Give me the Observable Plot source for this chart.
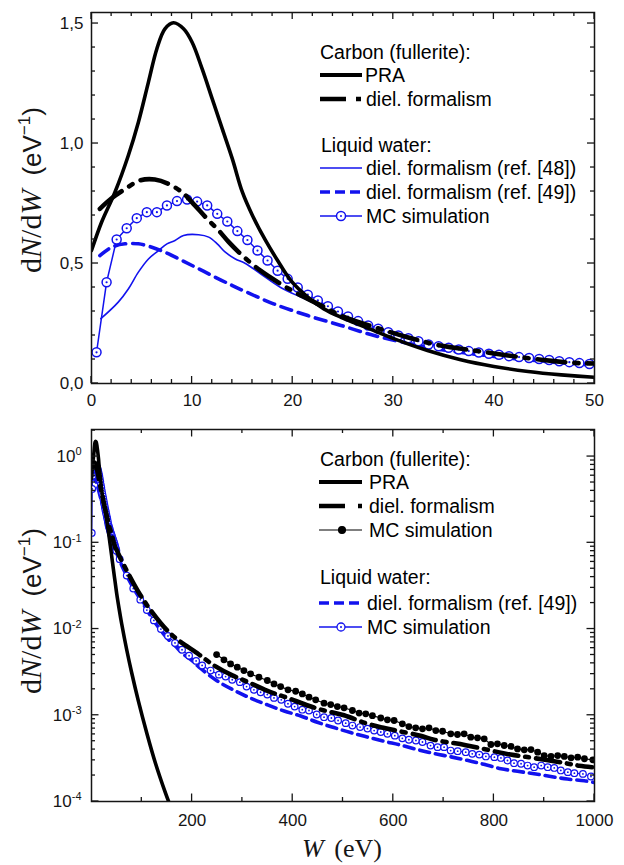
<!DOCTYPE html>
<html><head><meta charset="utf-8">
<script src="https://cdn.jsdelivr.net/npm/d3@7"></script>
<script src="https://cdn.jsdelivr.net/npm/@observablehq/plot@0.6"></script>
<style>body{margin:0;background:#fff} #chart{width:624px} svg{display:block}</style>
</head><body><div id="chart"></div>
<script>
// ---------------- data ----------------
// Carbon (fullerite), PRA
const praW = [0,1,2.33,3.66,4.66,5.66,6.5,7.3,8.15,9.15,10,11,12,13,14,15,16,17.3,18.5,19.8,21.5,23.1,24.8,27.4,30.1,33.4,36.7,40,43.4,46.7,50,55,60,70,80,93,110,127,147,160,170];
const praV = [0.554,0.672,0.797,0.95,1.089,1.256,1.395,1.478,1.503,1.478,1.422,1.311,1.186,1.061,0.936,0.797,0.70,0.596,0.5125,0.43,0.36,0.311,0.276,0.232,0.186,0.1375,0.099,0.071,0.05,0.036,0.026,0.017,0.0115,5.75e-3,3.09e-3,1.48e-3,6.2e-4,2.8e-4,1.26e-4,7.9e-5,5.6e-5];
// Carbon (fullerite), dielectric formalism
const dielCW = [0.83,2,3.33,4.8,6.3,7.65,9,10,11.5,12.65,13.65,15,16.8,18.8,20.5,22.5,24.8,28.1,31.4,34.7,38,41.4,44.7,48,50,53.3,73.3,93.3,120,153,177,207,217,243,280,313,356,386,442,472,502,545,578,608,654,681,744,833,863,940,970,995];
const dielCV = [0.728,0.772,0.81,0.846,0.85,0.832,0.797,0.755,0.686,0.6375,0.589,0.533,0.47,0.415,0.374,0.332,0.283,0.235,0.193,0.158,0.1375,0.117,0.099,0.086,0.083,0.0745,0.0437,0.0269,0.0158,9.3e-3,7.1e-3,5.4e-3,4.9e-3,3.8e-3,2.9e-3,2.4e-3,1.86e-3,1.62e-3,1.23e-3,1.1e-3,1.0e-3,8.1e-4,7.2e-4,6.6e-4,5.8e-4,5.2e-4,4.5e-4,3.5e-4,3.3e-4,2.8e-4,2.6e-4,2.5e-4];
// Carbon (fullerite), MC simulation (lower panel only)
const mcCW = [248.7,263.3,276.5,289.8,303,316.3,332.9,349.5,362.8,376,390.7,405.9,419.2,432.5,445.7,462.3,475.6,488.8,502.1,518.7,532,545.2,558.5,575.1,588.3,601.6,618,631,644.5,658,671,684.5,698,714.2,727.6,740.8,754,767.4,780.7,794,807,820.5,834,847,860.4,873.7,887,900,913.5,926.8,940,953.4,966.6,980,996.6];
const mcCV = [5.06e-3,4.40e-3,3.94e-3,3.61e-3,3.30e-3,3.02e-3,2.76e-3,2.53e-3,2.31e-3,2.15e-3,1.97e-3,1.90e-3,1.77e-3,1.62e-3,1.51e-3,1.38e-3,1.33e-3,1.26e-3,1.22e-3,1.135e-3,1.06e-3,1.04e-3,9.9e-4,9.3e-4,8.85e-4,8.7e-4,7.96e-4,7.4e-4,7.15e-4,6.97e-4,7.15e-4,6.65e-4,6.53e-4,6.1e-4,5.98e-4,6.1e-4,5.57e-4,5.47e-4,5.33e-4,4.58e-4,4.67e-4,4.46e-4,4.35e-4,4.07e-4,3.97e-4,4.0e-4,3.73e-4,3.41e-4,3.33e-4,3.41e-4,3.33e-4,3.21e-4,3.27e-4,3.13e-4,3.04e-4];
// Liquid water, dielectric formalism (ref. [48]) (upper panel only)
const ref48W = [0.93,2.66,3.66,4.66,5.66,6.66,7.5,8.3,9.15,10.65,11.65,12.5,13.3,14.3,15.3,16.8,18.8,20.8,23.1,25.4,28.1,32.7,36,40,45,50];
const ref48V = [0.27,0.339,0.394,0.464,0.519,0.554,0.582,0.596,0.617,0.62,0.61,0.582,0.547,0.519,0.5,0.457,0.40,0.36,0.318,0.276,0.235,0.175,0.145,0.118,0.097,0.08];
// Liquid water, dielectric formalism (ref. [49])
const ref49W = [0.83,2,3.33,4.66,6,7.3,9,10.65,12.3,14,15.3,18.1,21.5,24.8,28.1,31.4,35,40,45,50,60,70,80,90,100,110,120,133,150,167,183,200,217,250,283,316,350,383,416,449,482,515,548,581,615,648,681,714,747,780,814,847,880,913,946,980,1000];
const ref49V = [0.533,0.568,0.582,0.582,0.568,0.547,0.5125,0.478,0.443,0.408,0.383,0.332,0.283,0.242,0.2,0.168,0.14,0.113,0.092,0.076,0.055,0.0417,0.0324,0.0257,0.0209,0.0166,0.0135,0.0105,7.9e-3,6.3e-3,5.1e-3,4.3e-3,3.5e-3,2.5e-3,1.95e-3,1.58e-3,1.32e-3,1.12e-3,9.8e-4,8.3e-4,7.2e-4,6.3e-4,5.6e-4,5.0e-4,4.5e-4,4.0e-4,3.6e-4,3.3e-4,3.0e-4,2.7e-4,2.4e-4,2.24e-4,2.1e-4,1.95e-4,1.82e-4,1.74e-4,1.66e-4];
// Liquid water, MC simulation: 1-eV bins up to 50 eV ...
const mcWW = [0.5,1.5,2.5,3.5,4.5,5.5,6.5,7.5,8.5,9.5,10.5,11.5,12.5,13.5,14.5,15.5,16.5,17.5,18.5,19.5,20.5,21.5,22.5,23.5,24.5,25.5,26.5,27.5,28.5,29.5,30.5,31.5,32.5,33.5,34.5,35.5,36.5,37.5,38.5,39.5,40.5,41.5,42.5,43.5,44.5,45.5,46.5,47.5,48.5,49.5];
const mcWV = [0.13,0.422,0.60,0.647,0.689,0.714,0.714,0.742,0.76,0.767,0.758,0.742,0.707,0.675,0.635,0.598,0.554,0.5125,0.47,0.436,0.40,0.37,0.346,0.322,0.30,0.279,0.26,0.242,0.228,0.214,0.2,0.189,0.176,0.163,0.155,0.149,0.142,0.135,0.129,0.124,0.12,0.114,0.11,0.106,0.102,0.098,0.093,0.089,0.085,0.081];
// ... and its high-energy tail (lower panel)
const mcWTailW = [56,70,83,97,110,124,138,152,166,180,194,208,220,236.7,253.3,266.6,279.8,295,308.3,322.9,336.2,349.5,362.8,377.3,390.6,403.9,419.1,432.4,447.7,462.3,476.9,490.2,505.4,518.7,534,548.6,561.9,575.1,588.4,603,618,631,645,658,674,688,701,714,728,744,757,771,784,801,814,827,840,854,867,880,894,907,920,933,947,960,977,993];
const mcWTailV = [0.0646,0.0417,0.0295,0.0219,0.0166,0.0126,0.01,8.3e-3,6.9e-3,5.75e-3,4.9e-3,4.27e-3,3.78e-3,3.3e-3,2.96e-3,2.81e-3,2.58e-3,2.42e-3,2.15e-3,1.97e-3,1.85e-3,1.74e-3,1.59e-3,1.51e-3,1.36e-3,1.26e-3,1.16e-3,1.135e-3,1.02e-3,9.5e-4,9.3e-4,8.7e-4,8.1e-4,7.6e-4,7.3e-4,7.0e-4,6.65e-4,6.4e-4,6.1e-4,5.8e-4,5.4e-4,5.2e-4,5.1e-4,4.9e-4,4.45e-4,4.27e-4,4.27e-4,3.9e-4,3.83e-4,3.73e-4,3.57e-4,3.5e-4,3.33e-4,3.27e-4,3.2e-4,2.99e-4,2.78e-4,2.74e-4,2.61e-4,2.5e-4,2.61e-4,2.5e-4,2.45e-4,2.29e-4,2.19e-4,2.13e-4,2.09e-4,1.95e-4];

// tick values / labels
const topXTicks = [0,10,20,30,40,50];
const topYTicks = [0,0.5,1.0,1.5];
const botXTicks = [200,400,600,800,1000];
const botYTicks = [1e-4,1e-3,1e-2,1e-1,1];

// ---------------- helpers ----------------
const zip = (ws, vs) => ws.map((w, i) => ({w, v: vs[i]}));
const sans = "'Liberation Sans', Arial, sans-serif";
const serif = "'Liberation Serif', 'Times New Roman', serif";
const blue = "#1212ee";
const ink = "#151515";
const W = 624, ML = 91, MR = 30;

// inward ticks on all four sides, placed with the plot's own scales
function drawTicks(plot, H, MT, MB, xs, ys, len) {
  const sx = plot.scale("x"), sy = plot.scale("y");
  const L = ML, R = W - MR, T = MT, B = H - MB;
  const g = d3.select(plot).append("g").attr("stroke", ink).attr("stroke-width", 1.3).attr("fill", "none");
  for (const v of xs) {
    const x = sx.apply(v);
    g.append("line").attr("x1", x).attr("x2", x).attr("y1", B).attr("y2", B - len);
    g.append("line").attr("x1", x).attr("x2", x).attr("y1", T).attr("y2", T + len);
  }
  for (const v of ys) {
    const y = sy.apply(v);
    g.append("line").attr("y1", y).attr("y2", y).attr("x1", L).attr("x2", L + len);
    g.append("line").attr("y1", y).attr("y2", y).attr("x1", R).attr("x2", R - len);
  }
}

function yTitle(svg, cx, cy) {
  const t = d3.select(svg).append("text")
    .attr("transform", `translate(${cx},${cy}) rotate(-90)`)
    .attr("text-anchor", "middle").attr("fill", ink);
  const sp = (txt, fam, size, italic) => t.append("tspan").attr("font-family", fam).attr("font-size", size)
    .attr("font-style", italic ? "italic" : "normal").text(txt);
  sp("d", serif, 30); sp("N", serif, 30, true); sp("/d", serif, 30); sp("W", serif, 30, true);
  sp("(eV", sans, 26).attr("dx", 14);
  sp("\u22121", sans, 17).attr("dy", -11);
  sp(")", sans, 26).attr("dy", 11);
}

function legend(svg, items) {
  const g = d3.select(svg).append("g").attr("font-family", sans).attr("font-size", 19.5)
    .attr("fill", "#000").attr("text-anchor", "start");
  for (const it of items) {
    if (it.head) { g.append("text").attr("x", it.x).attr("y", it.y + 7).text(it.head); continue; }
    const l = g.append("line").attr("x1", it.x1).attr("x2", it.x2).attr("y1", it.y).attr("y2", it.y)
      .attr("stroke", it.stroke).attr("stroke-width", it.sw);
    if (it.dash) l.attr("stroke-dasharray", it.dash);
    if (it.dot) g.append("circle").attr("cx", it.dot.x).attr("cy", it.y).attr("r", it.dot.r)
      .attr("fill", it.dot.fill).attr("stroke", it.stroke).attr("stroke-width", it.dot.sw || 1.3);
    if (it.center) g.append("circle").attr("cx", it.dot.x).attr("cy", it.y).attr("r", 1).attr("fill", it.stroke);
    g.append("text").attr("x", it.tx).attr("y", it.y + 7).text(it.text);
  }
}

const chart = document.getElementById("chart");

// ---------------- upper panel ----------------
{
  const H = 420, MT = 12, MB = 37;
  const mcTop = zip(mcWW, mcWV);
  const plot = Plot.plot({
    width: W, height: H, marginLeft: ML, marginRight: MR, marginTop: MT, marginBottom: MB,
    x: {domain: [0, 50]},
    y: {domain: [0, 1.546]},
    style: {fontFamily: sans, fontSize: "17px", color: ink, background: "white"},
    marks: [
      Plot.axisX({ticks: topXTicks, tickSize: 0, tickPadding: 10, tickFormat: d => String(d), label: null, fontSize: 17}),
      Plot.axisY({ticks: topYTicks, tickSize: 0, tickPadding: 8, tickFormat: d => d.toFixed(1).replace(".", ","), label: null, fontSize: 17}),
      Plot.line(zip(ref49W, ref49V), {x: "w", y: "v", stroke: blue, strokeWidth: 3.6, strokeDasharray: "11,7", curve: "catmull-rom", clip: true}),
      Plot.line(zip(ref48W, ref48V), {x: "w", y: "v", stroke: blue, strokeWidth: 1.6, curve: "catmull-rom", clip: true}),
      Plot.line(mcTop, {x: "w", y: "v", stroke: blue, strokeWidth: 1.5}),
      Plot.dot(mcTop, {x: "w", y: "v", r: 4.5, fill: "white", stroke: blue, strokeWidth: 1.5}),
      Plot.dot(mcTop, {x: "w", y: "v", r: 1.1, fill: blue}),
      Plot.line(zip(praW, praV), {x: "w", y: "v", stroke: "#000", strokeWidth: 3.6, curve: "catmull-rom", clip: true}),
      Plot.line(zip(dielCW, dielCV), {x: "w", y: "v", stroke: "#000", strokeWidth: 4.6, strokeDasharray: "28,9,4,9", curve: "catmull-rom", clip: true}),
      Plot.frame({stroke: ink, strokeWidth: 1.5})
    ]
  });
  chart.append(plot);
  drawTicks(plot, H, MT, MB, d3.range(2, 50, 2).filter(d => d % 10), d3.range(1, 16).map(d => d / 10).filter(d => Math.round(d * 10) % 5), 4);
  drawTicks(plot, H, MT, MB, topXTicks, topYTicks, 7);
  yTitle(plot, 41, 190);
  legend(plot, [
    {head: "Carbon (fullerite):", x: 320, y: 52},
    {x1: 320, x2: 362, y: 75, stroke: "#000", sw: 4, tx: 365, text: "PRA"},
    {x1: 320, x2: 362, y: 99, stroke: "#000", sw: 4.6, dash: "26,10,5,10", tx: 366, text: "diel. formalism"},
    {head: "Liquid water:", x: 321, y: 145},
    {x1: 320, x2: 362, y: 168, stroke: blue, sw: 1.6, tx: 366, text: "diel. formalism (ref. [48])"},
    {x1: 320, x2: 360, y: 192, stroke: blue, sw: 3.6, dash: "10,5", tx: 366, text: "diel. formalism (ref. [49])"},
    {x1: 320, x2: 362, y: 216, stroke: blue, sw: 1.5, dot: {x: 341, r: 4.5, fill: "white", sw: 1.5}, center: true, tx: 366, text: "MC simulation"}
  ]);
}

// ---------------- lower panel ----------------
{
  const H = 445, MT = 9, MB = 64;
  const mcAll = zip(mcWW.concat(mcWTailW), mcWV.concat(mcWTailV));
  const mcC = zip(mcCW, mcCV);
  const minorY = [];
  for (let e = -4; e <= 0; e++) for (let k = 2; k <= 9; k++) { const v = k * Math.pow(10, e); if (v < 2.06) minorY.push(v); }
  const plot = Plot.plot({
    width: W, height: H, marginLeft: ML, marginRight: MR, marginTop: MT, marginBottom: MB,
    x: {domain: [0, 1000]},
    y: {type: "log", domain: [1e-4, 2.06]},
    style: {fontFamily: sans, fontSize: "17px", color: ink, background: "white"},
    marks: [
      Plot.axisX({ticks: botXTicks, tickSize: 0, tickPadding: 12, tickFormat: d => String(d), label: null, fontSize: 17}),
      Plot.axisY({ticks: botYTicks, tickSize: 0, tickPadding: 10, tickFormat: d => "10^" + Math.round(Math.log10(d)), label: null, fontSize: 17}),
      Plot.line(zip(ref49W, ref49V), {x: "w", y: "v", stroke: blue, strokeWidth: 3.6, strokeDasharray: "10,6", curve: "catmull-rom", clip: true}),
      Plot.line(mcAll, {x: "w", y: "v", stroke: blue, strokeWidth: 1.2, clip: true}),
      Plot.dot(mcAll, {x: "w", y: "v", r: 3.3, fill: "white", stroke: blue, strokeWidth: 1.2, clip: true}),
      Plot.dot(mcAll, {x: "w", y: "v", r: 0.9, fill: blue, clip: true}),
      Plot.line(zip(dielCW, dielCV), {x: "w", y: "v", stroke: "#000", strokeWidth: 4.6, strokeDasharray: "24,7,4,7", curve: "catmull-rom", clip: true}),
      Plot.line(mcC, {x: "w", y: "v", stroke: "#000", strokeWidth: 1.1, clip: true}),
      Plot.dot(mcC, {x: "w", y: "v", r: 3.4, fill: "#000", clip: true}),
      Plot.line(zip(praW, praV), {x: "w", y: "v", stroke: "#000", strokeWidth: 3.6, curve: "catmull-rom", clip: true}),
      Plot.frame({stroke: ink, strokeWidth: 1.5})
    ]
  });
  chart.append(plot);
  drawTicks(plot, H, MT, MB, [100, 300, 500, 700, 900], minorY, 4);
  drawTicks(plot, H, MT, MB, botXTicks, botYTicks, 7.5);
  // superscript exponents on the log tick labels
  d3.select(plot).selectAll('g[aria-label="y-axis tick label"] text').each(function () {
    const [b, e] = this.textContent.split("^");
    const t = d3.select(this); t.text(null);
    t.append("tspan").text(b);
    t.append("tspan").attr("font-size", 11).attr("dy", "-0.6em").text(e);
  });
  yTitle(plot, 41, 191);
  const xt = d3.select(plot).append("text").attr("x", 342).attr("y", 437).attr("text-anchor", "middle")
    .attr("font-family", serif).attr("font-size", 26).attr("fill", ink);
  xt.append("tspan").attr("font-style", "italic").text("W");
  xt.append("tspan").text(" (eV)").attr("dx", 4);
  legend(plot, [
    {head: "Carbon (fullerite):", x: 320, y: 39},
    {x1: 319, x2: 362, y: 62, stroke: "#000", sw: 4, tx: 369, text: "PRA"},
    {x1: 319, x2: 362, y: 86, stroke: "#000", sw: 4.6, dash: "26,13,4,10", tx: 369, text: "diel. formalism"},
    {x1: 319, x2: 362, y: 110, stroke: "#000", sw: 1.1, dot: {x: 342, r: 3.4, fill: "#000"}, tx: 369, text: "MC simulation"},
    {head: "Liquid water:", x: 320, y: 157},
    {x1: 319, x2: 359, y: 183, stroke: blue, sw: 3.6, dash: "10,5", tx: 367, text: "diel. formalism (ref. [49])"},
    {x1: 319, x2: 362, y: 207, stroke: blue, sw: 1.3, dot: {x: 341, r: 4, fill: "white", sw: 1.3}, center: true, tx: 367, text: "MC simulation"}
  ]);
}
</script></body></html>
